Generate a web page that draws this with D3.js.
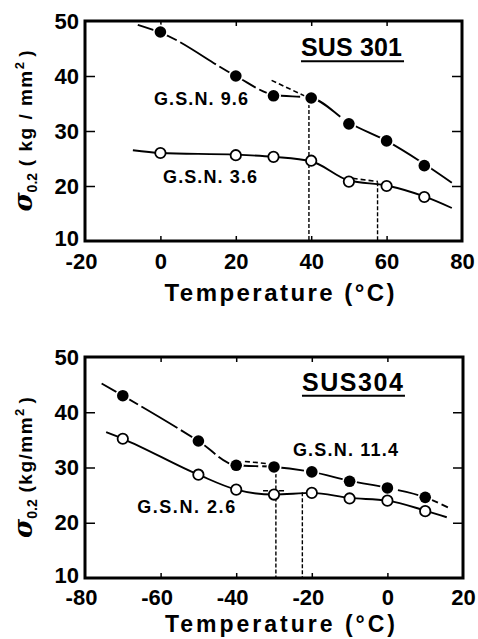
<!DOCTYPE html>
<html>
<head>
<meta charset="utf-8">
<script src="https://cdn.jsdelivr.net/npm/d3@7"></script>
<style>
  body { margin: 0; background: #fff; }
  svg { display: block; font-family: "Liberation Sans", Arial, sans-serif; font-weight: bold; }
</style>
</head>
<body>
<svg id="chart" width="478" height="639"></svg>
<script>
// ---- SUS 301 (top panel) ----
const temps301 = [0, 20, 30, 40, 50, 60, 70];
const gsn96 = [48, 40, 36.4, 36, 31.3, 28.2, 23.7];
const gsn36 = [26, 25.6, 25.3, 24.6, 20.8, 20, 18];
// fitted curves
const fit96 = [[-6, 49.3], [0, 47.9], [20, 40], [30, 36.6], [40, 36], [50, 31.5], [60, 28.2], [70, 24], [77.3, 20.6]];
const fit36 = [[-7.3, 26.5], [0, 26], [20, 25.7], [30, 25.3], [40, 24.5], [50, 21], [60, 20.1], [70, 18.1], [77.3, 16]];
const ext301 = [[[29.5, 39.2], [38.5, 36.3]], [[51, 21.4], [57.7, 20.8]]];
const drop301 = [[39.4, 36], [57.6, 20.7]];
const xTicks301 = [-20, 0, 20, 40, 60, 80];

// ---- SUS 304 (bottom panel) ----
const temps304 = [-70, -50, -40, -30, -20, -10, 0, 10];
const gsn114 = [43, 34.8, 30.4, 30.1, 29.2, 27.5, 26.3, 24.6];
const gsn26 = [35.2, 28.7, 26, 25.1, 25.4, 24.4, 24, 22.1];
const fit114 = [[-75.6, 45.2], [-70, 43], [-50, 34.8], [-40, 30.4], [-30, 30.1], [-20, 29.2], [-10, 27.6], [0, 26.3], [10, 24.6], [16, 22.8]];
const fit26 = [[-74.4, 36.4], [-70, 35.2], [-50, 28.7], [-40, 26], [-30, 25.1], [-20, 25.4], [-10, 24.5], [0, 24], [10, 22.2], [15.7, 21]];
const ext304 = [[[-37.7, 31.1], [-31.6, 30.7]], [[-32.9, 25.8], [-26.6, 25.8]]];
const drop304 = [[-29.5, 30], [-22.5, 25.5]];
const xTicks304 = [-80, -60, -40, -20, 0, 20];

const yTicks = [10, 20, 30, 40, 50];

const svg = d3.select("#chart");

// =======================================================================================
/// Draw one panel: frame, inward ticks, curves, markers and labels.
function drawPanel(p)
 {
  const x = d3.scaleLinear().domain(p.xDomain).range([p.left, p.right]);
  const y = d3.scaleLinear().domain([10, 50]).range([p.bottom, p.top]);
  const g = svg.append("g");
  const inner = v => v !== p.xDomain[0] && v !== p.xDomain[1];
  const innerY = v => v !== 10 && v !== 50;

  // bottom axis: labels + inward ticks
  const bx = g.append("g").attr("transform", `translate(0,${p.bottom})`)
    .call(d3.axisBottom(x).tickValues(p.xTicks).tickSize(-5).tickPadding(p.xPad)
      .tickFormat(d => d < 0 ? "-" + Math.abs(d) : d));
  bx.selectAll("text").attr("font-size", 22).attr("fill", "#000").attr("font-family", null)
    .attr("dx", d => d < 0 ? -4 : 0);
  bx.selectAll(".tick line").attr("stroke-width", 1.5).filter(d => !inner(d)).remove();

  // top axis ticks
  const tx = g.append("g").attr("transform", `translate(0,${p.top})`)
    .call(d3.axisTop(x).tickValues(p.xTicks.filter(inner)).tickSize(-5).tickFormat(""));
  tx.selectAll(".tick line").attr("stroke-width", 1.5);

  // left axis: labels + inward ticks
  const ly = g.append("g").attr("transform", `translate(${p.left},0)`)
    .call(d3.axisLeft(y).tickValues(yTicks).tickSize(-10).tickPadding(6));
  ly.selectAll("text").attr("font-size", 22).attr("fill", "#000").attr("font-family", null);
  ly.selectAll(".tick text").filter(d => d === 10).attr("dy", "0.2em");
  ly.selectAll(".tick line").attr("stroke-width", 1.5).filter(d => !innerY(d)).remove();

  // right axis ticks
  const ry = g.append("g").attr("transform", `translate(${p.right},0)`)
    .call(d3.axisRight(y).tickValues(yTicks.filter(innerY)).tickSize(-10).tickFormat(""));
  ry.selectAll(".tick line").attr("stroke-width", 1.5);

  g.selectAll(".domain").remove();

  // frame
  g.append("rect")
    .attr("x", p.left).attr("y", p.top)
    .attr("width", p.right - p.left).attr("height", p.bottom - p.top)
    .attr("fill", "none").attr("stroke", "#000").attr("stroke-width", 3);

  const line = d3.line().x(d => x(d[0])).y(d => y(d[1])).curve(d3.curveMonotoneX);

  // vertical dashed drop lines
  p.drops.forEach(d => {
    g.append("line")
      .attr("x1", x(d[0])).attr("x2", x(d[0]))
      .attr("y1", y(d[1])).attr("y2", p.bottom)
      .attr("stroke", "#000").attr("stroke-width", 1.4).attr("stroke-dasharray", "4,2");
  });

  // dashed extrapolations
  p.ext.forEach(seg => {
    g.append("path").datum(seg)
      .attr("d", d3.line().x(d => x(d[0])).y(d => y(d[1])))
      .attr("fill", "none").attr("stroke", "#000").attr("stroke-width", 1.6)
      .attr("stroke-dasharray", "5,3");
  });

  // fitted curves
  g.append("path").datum(p.fitFilled).attr("d", line)
    .attr("fill", "none").attr("stroke", "#000").attr("stroke-width", 1.9)
    .attr("stroke-dasharray", "42,4");
  g.append("path").datum(p.fitOpen).attr("d", line)
    .attr("fill", "none").attr("stroke", "#000").attr("stroke-width", 1.9);

  // markers (filled ones sit on a white halo that breaks the line)
  const filledPts = p.temps.map((t, i) => [t, p.filled[i]]);
  g.selectAll(".halo").data(filledPts)
    .enter().append("circle")
    .attr("cx", d => x(d[0])).attr("cy", d => y(d[1])).attr("r", 7.5)
    .attr("fill", "#fff");
  g.selectAll(".filled").data(filledPts)
    .enter().append("circle")
    .attr("cx", d => x(d[0])).attr("cy", d => y(d[1])).attr("r", 5.8)
    .attr("fill", "#000");
  g.selectAll(".open").data(p.temps.map((t, i) => [t, p.open[i]]))
    .enter().append("circle")
    .attr("cx", d => x(d[0])).attr("cy", d => y(d[1])).attr("r", 5.2)
    .attr("fill", "#fff").attr("stroke", "#000").attr("stroke-width", 1.8);

  // series labels
  p.labels.forEach(l => {
    g.append("text").attr("x", x(l.x)).attr("y", y(l.y))
      .attr("font-size", 18).attr("textLength", l.len).attr("lengthAdjust", "spacing")
      .text(l.text);
  });

  // alloy title with underline
  g.append("text").attr("x", x(p.title.x)).attr("y", y(p.title.y))
    .attr("font-size", 25).attr("textLength", p.title.len).attr("lengthAdjust", "spacing")
    .text(p.title.text);
  g.append("line")
    .attr("x1", x(p.title.x)).attr("x2", x(p.title.x) + p.title.len + 2)
    .attr("y1", y(p.title.y) + 5).attr("y2", y(p.title.y) + 5)
    .attr("stroke", "#000").attr("stroke-width", 2);

  // x axis title
  g.append("text").attr("x", (p.left + p.right) / 2 + 6).attr("y", p.bottom + p.titleGap)
    .attr("text-anchor", "middle").attr("font-size", p.titleSize)
    .attr("textLength", 230).attr("lengthAdjust", "spacing")
    .text("Temperature (°C)");

  // y axis title
  const yt = g.append("text")
    .attr("transform", `translate(32,${(p.top + p.bottom) / 2})rotate(-90)`)
    .attr("text-anchor", "middle").attr("font-size", 19);
  yt.append("tspan").attr("font-size", 26).attr("font-style", "italic")
    .attr("font-family", "DejaVu Serif, serif").text("σ");
  yt.append("tspan").attr("font-size", 14).attr("dy", 5).text("0.2");
  yt.append("tspan").attr("dy", -5).attr("letter-spacing", p.ySpacing).text(p.yMid);
  yt.append("tspan").attr("font-size", 13).attr("dy", -8).text("2");
  yt.append("tspan").attr("dy", 8).text(" )");
 }

drawPanel({
  left: 85, right: 462, top: 21, bottom: 241,
  xDomain: [-20, 80], xTicks: xTicks301, xPad: 12,
  temps: temps301, filled: gsn96, open: gsn36,
  fitFilled: fit96, fitOpen: fit36, ext: ext301, drops: drop301,
  labels: [
    { text: "G.S.N. 9.6", x: -1.7, y: 34.7, len: 94 },
    { text: "G.S.N. 3.6", x: 0.7, y: 20.5, len: 94 }
  ],
  title: { text: "SUS 301", x: 37.3, y: 43.6, len: 101 },
  titleGap: 60, titleSize: 24,
  yMid: "  ( kg / mm", ySpacing: 1.5
});

drawPanel({
  left: 85, right: 463, top: 357, bottom: 578,
  xDomain: [-80, 20], xTicks: xTicks304, xPad: 11,
  temps: temps304, filled: gsn114, open: gsn26,
  fitFilled: fit114, fitOpen: fit26, ext: ext304, drops: drop304,
  labels: [
    { text: "G.S.N. 11.4", x: -25, y: 32.1, len: 105 },
    { text: "G.S.N. 2.6", x: -66.2, y: 21.8, len: 98 }
  ],
  title: { text: "SUS304", x: -22.6, y: 43.9, len: 101 },
  titleGap: 54, titleSize: 23,
  yMid: " (kg/mm", ySpacing: 1.5
});
</script>
</body>
</html>
